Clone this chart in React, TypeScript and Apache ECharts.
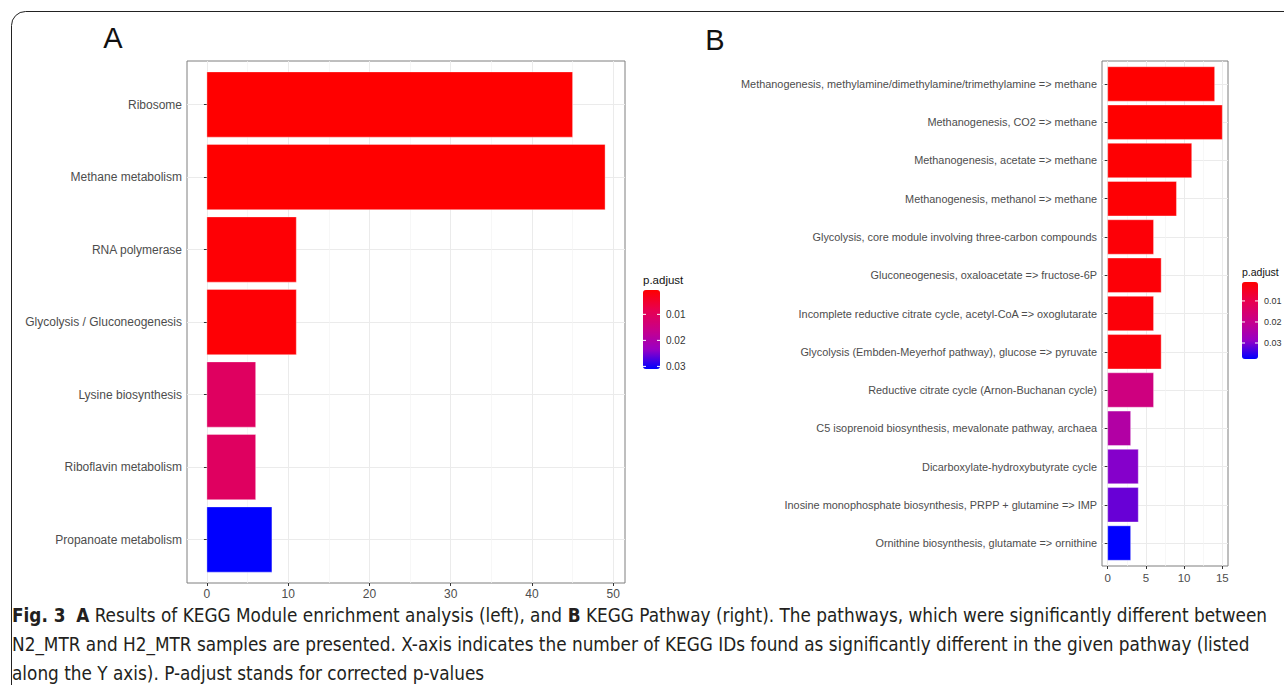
import React, { useEffect, useRef } from "react";
import * as echarts from "echarts";

// ---------- Panel A: KEGG Module ----------
const catsA = [
  "Ribosome",
  "Methane metabolism",
  "RNA polymerase",
  "Glycolysis / Gluconeogenesis",
  "Lysine biosynthesis",
  "Riboflavin metabolism",
  "Propanoate metabolism",
];
const countsA = [45, 49, 11, 11, 6, 6, 8];
const padjA = [0.00064, 0.00064, 0.0011, 0.0011, 0.0105, 0.0105, 0.031];
const xRangeA = [-2.45, 51.45];
const tickRangeA = [0, 50];
const tickStepA = 10;
const majorTicksA = [0, 10, 20, 30, 40, 50];
const minorTicksA = [5, 15, 25, 35, 45];
const legendTicksA = [0.01, 0.02, 0.03];
const padjRangeA = [0.00064, 0.031];

// ---------- Panel B: KEGG Pathway ----------
const catsB = [
  "Methanogenesis, methylamine/dimethylamine/trimethylamine => methane",
  "Methanogenesis, CO2 => methane",
  "Methanogenesis, acetate => methane",
  "Methanogenesis, methanol => methane",
  "Glycolysis, core module involving three-carbon compounds",
  "Gluconeogenesis, oxaloacetate => fructose-6P",
  "Incomplete reductive citrate cycle, acetyl-CoA => oxoglutarate",
  "Glycolysis (Embden-Meyerhof pathway), glucose => pyruvate",
  "Reductive citrate cycle (Arnon-Buchanan cycle)",
  "C5 isoprenoid biosynthesis, mevalonate pathway, archaea",
  "Dicarboxylate-hydroxybutyrate cycle",
  "Inosine monophosphate biosynthesis, PRPP + glutamine => IMP",
  "Ornithine biosynthesis, glutamate => ornithine",
];
const countsB = [14, 15, 11, 9, 6, 7, 6, 7, 6, 3, 4, 4, 3];
const padjB = [0.001, 0.001, 0.0013, 0.0015, 0.0018, 0.0018, 0.002, 0.002, 0.0178, 0.0237, 0.0297, 0.0314, 0.0376];
const xRangeB = [-0.75, 15.75];
const tickRangeB = [0, 15];
const tickStepB = 5;
const majorTicksB = [0, 5, 10, 15];
const minorTicksB = [2.5, 7.5, 12.5];
const legendTicksB = [0.01, 0.02, 0.03];
const padjRangeB = [0.001, 0.0376];

const gradient = ["#ff0000", "#e8004f", "#c90088", "#9a00c3", "#0000ff"];

const captionLines = [
  "{b|Fig. 3}  {b|A} Results of KEGG Module enrichment analysis (left), and {b|B} KEGG Pathway (right). The pathways, which were significantly different between",
  "N2_MTR and H2_MTR samples are presented. X-axis indicates the number of KEGG IDs found as significantly different in the given pathway (listed",
  "along the Y axis). P-adjust stands for corrected p-values",
];

const FONT = "'Liberation Sans', Arial, sans-serif";
const CAP_FONT = "'DejaVu Sans Condensed', 'Liberation Sans Narrow', sans-serif";

function renderBar(params: any, api: any) {
  const v = api.value(0);
  const i = api.value(1);
  const s = api.coord([0, i]);
  const e = api.coord([v, i]);
  const h = api.size([0, 0.9])[1];
  return {
    type: "rect",
    shape: { x: s[0], y: s[1] - h / 2, width: e[0] - s[0], height: h },
    style: { fill: api.visual("color"), stroke: "rgba(255,255,255,0.35)", lineWidth: 1 },
  };
}

function legendGraphics(x: number, top: number, w: number, h: number, range: number[], ticks: number[], fontSize: number, title: string, titleY: number) {
  const els: any[] = [
    { type: "text", x, y: titleY, z: 100, style: { text: title, fontFamily: FONT, fontSize: fontSize + 1.5, fill: "#111", verticalAlign: "middle" } },
  ];
  ticks.forEach((t) => {
    const y = top + ((t - range[0]) / (range[1] - range[0])) * h;
    els.push({ type: "line", z: 100, shape: { x1: x, y1: y, x2: x + 3, y2: y }, style: { stroke: "#fff", lineWidth: 1 } });
    els.push({ type: "line", z: 100, shape: { x1: x + w - 3, y1: y, x2: x + w, y2: y }, style: { stroke: "#fff", lineWidth: 1 } });
    els.push({ type: "text", z: 100, x: x + w + 6, y, style: { text: t.toFixed(2), fontFamily: FONT, fontSize, fill: "#333", verticalAlign: "middle" } });
  });
  return els;
}

// plot panel geometry
const PA = { left: 187, top: 61, width: 438, height: 522 };
const PB = { left: 1102, top: 61, width: 126, height: 505 };

// sub-grid spanning exactly the labelled tick range, so ticks start at a multiple of the interval
function tickGrid(p: any, range: number[], tickRange: number[]) {
  const span = range[1] - range[0];
  return {
    left: p.left + ((tickRange[0] - range[0]) / span) * p.width,
    top: p.top,
    width: ((tickRange[1] - tickRange[0]) / span) * p.width,
    height: p.height,
    show: false,
  };
}

export default function App() {
  const ref = useRef<HTMLDivElement>(null);
  useEffect(() => {
    document.body.style.margin = "0";
    const chart = echarts.init(ref.current!, null, { renderer: "svg" });
    const LA = { x: 643, top: 290, w: 17, h: 79 };
    const LB = { x: 1242, top: 282, w: 16, h: 77 };
    const gridLine = (custom: number[], color: string, width: number) => ({
      axisLine: { show: false },
      axisTick: { show: false, customValues: custom },
      axisLabel: { show: false },
      splitLine: { show: true, lineStyle: { color, width } },
    });
    const tickAxis = (gridIndex: number, range: number[], step: number, fontSize: number, margin: number) => ({
      gridIndex, type: "value", min: range[0], max: range[1], interval: step,
      axisLine: { show: false },
      axisTick: { show: true, length: 3, lineStyle: { color: "#333" } },
      axisLabel: { color: "#4d4d4d", fontSize, margin, showMinLabel: true, showMaxLabel: true },
      splitLine: { show: false },
    });
    const option: any = {
      animation: false,
      backgroundColor: "#fff",
      textStyle: { fontFamily: FONT },
      grid: [
        { ...PA, show: true, borderColor: "#7f7f7f", borderWidth: 1, backgroundColor: "#fff" },
        { ...PB, show: true, borderColor: "#7f7f7f", borderWidth: 1, backgroundColor: "#fff" },
        tickGrid(PA, xRangeA, tickRangeA),
        tickGrid(PB, xRangeB, tickRangeB),
      ],
      xAxis: [
        { gridIndex: 0, type: "value", min: xRangeA[0], max: xRangeA[1], ...gridLine(majorTicksA, "#ebebeb", 1) },
        { gridIndex: 0, type: "value", min: xRangeA[0], max: xRangeA[1], ...gridLine(minorTicksA, "#f3f3f3", 0.7) },
        { gridIndex: 1, type: "value", min: xRangeB[0], max: xRangeB[1], ...gridLine(majorTicksB, "#ebebeb", 1) },
        { gridIndex: 1, type: "value", min: xRangeB[0], max: xRangeB[1], ...gridLine(minorTicksB, "#f3f3f3", 0.7) },
        tickAxis(2, tickRangeA, tickStepA, 12, 5),
        tickAxis(3, tickRangeB, tickStepB, 11.5, 6),
      ],
      yAxis: [
        {
          gridIndex: 0, type: "value", min: -0.6, max: catsA.length - 1 + 0.6, inverse: true,
          axisLine: { show: false },
          axisTick: { show: true, customValues: catsA.map((_, i) => i), length: 3, lineStyle: { color: "#333" } },
          axisLabel: { customValues: catsA.map((_, i) => i), formatter: (v: number) => catsA[Math.round(v)] ?? "", color: "#4d4d4d", fontSize: 12, margin: 5 },
          splitLine: { show: true, lineStyle: { color: "#ebebeb", width: 1 } },
        },
        {
          gridIndex: 1, type: "value", min: -0.6, max: catsB.length - 1 + 0.6, inverse: true,
          axisLine: { show: false },
          axisTick: { show: true, customValues: catsB.map((_, i) => i), length: 3, lineStyle: { color: "#333" } },
          axisLabel: { customValues: catsB.map((_, i) => i), formatter: (v: number) => catsB[Math.round(v)] ?? "", color: "#4d4d4d", fontSize: 10.9, margin: 5 },
          splitLine: { show: true, lineStyle: { color: "#ebebeb", width: 1 } },
        },
        { gridIndex: 2, type: "value", show: false },
        { gridIndex: 3, type: "value", show: false },
      ],
      visualMap: [
        {
          type: "continuous", seriesIndex: 0, dimension: 2,
          min: padjRangeA[0], max: padjRangeA[1], inverse: true,
          inRange: { color: gradient }, calculable: false, orient: "vertical",
          left: LA.x, top: LA.top, itemWidth: LA.w, itemHeight: LA.h, padding: 0,
          text: null, showLabel: false, hoverLink: false,
        },
        {
          type: "continuous", seriesIndex: 1, dimension: 2,
          min: padjRangeB[0], max: padjRangeB[1], inverse: true,
          inRange: { color: gradient }, calculable: false, orient: "vertical",
          left: LB.x, top: LB.top, itemWidth: LB.w, itemHeight: LB.h, padding: 0,
          text: null, showLabel: false, hoverLink: false,
        },
      ],
      series: [
        {
          type: "custom", xAxisIndex: 0, yAxisIndex: 0,
          renderItem: renderBar,
          encode: { x: 0, y: 1 },
          data: countsA.map((c, i) => [c, i, padjA[i]]),
        },
        {
          type: "custom", xAxisIndex: 2, yAxisIndex: 1,
          renderItem: renderBar,
          encode: { x: 0, y: 1 },
          data: countsB.map((c, i) => [c, i, padjB[i]]),
        },
      ],
      graphic: [
        { type: "rect", silent: true, z: 100, shape: { x: 11.5, y: 11.5, width: 1320, height: 700, r: 14 }, style: { fill: "none", stroke: "#222", lineWidth: 1 } },
        { type: "text", z: 100, x: 113, y: 38, style: { text: "A", fontFamily: FONT, fontSize: 29, fill: "#111", align: "center", verticalAlign: "middle" } },
        { type: "text", z: 100, x: 715, y: 40, style: { text: "B", fontFamily: FONT, fontSize: 29, fill: "#111", align: "center", verticalAlign: "middle" } },
        ...legendGraphics(LA.x, LA.top, LA.w, LA.h, padjRangeA, legendTicksA, 10, "p.adjust", 280),
        ...legendGraphics(LB.x, LB.top, LB.w, LB.h, padjRangeB, legendTicksB, 9, "p.adjust", 272),
        ...captionLines.map((line, i) => ({
          type: "text", z: 100, x: 12, y: 615 + i * 29, scaleX: 0.94,
          style: {
            text: line, fontFamily: CAP_FONT, fontSize: 20, fill: "#231f20", verticalAlign: "middle",
            rich: { b: { fontFamily: CAP_FONT, fontSize: 20, fontWeight: "bold", fill: "#231f20" } },
          },
        })),
      ],
    };
    chart.setOption(option);
    return () => chart.dispose();
  }, []);
  return <div ref={ref} style={{ width: 1284, height: 685 }} />;
}
